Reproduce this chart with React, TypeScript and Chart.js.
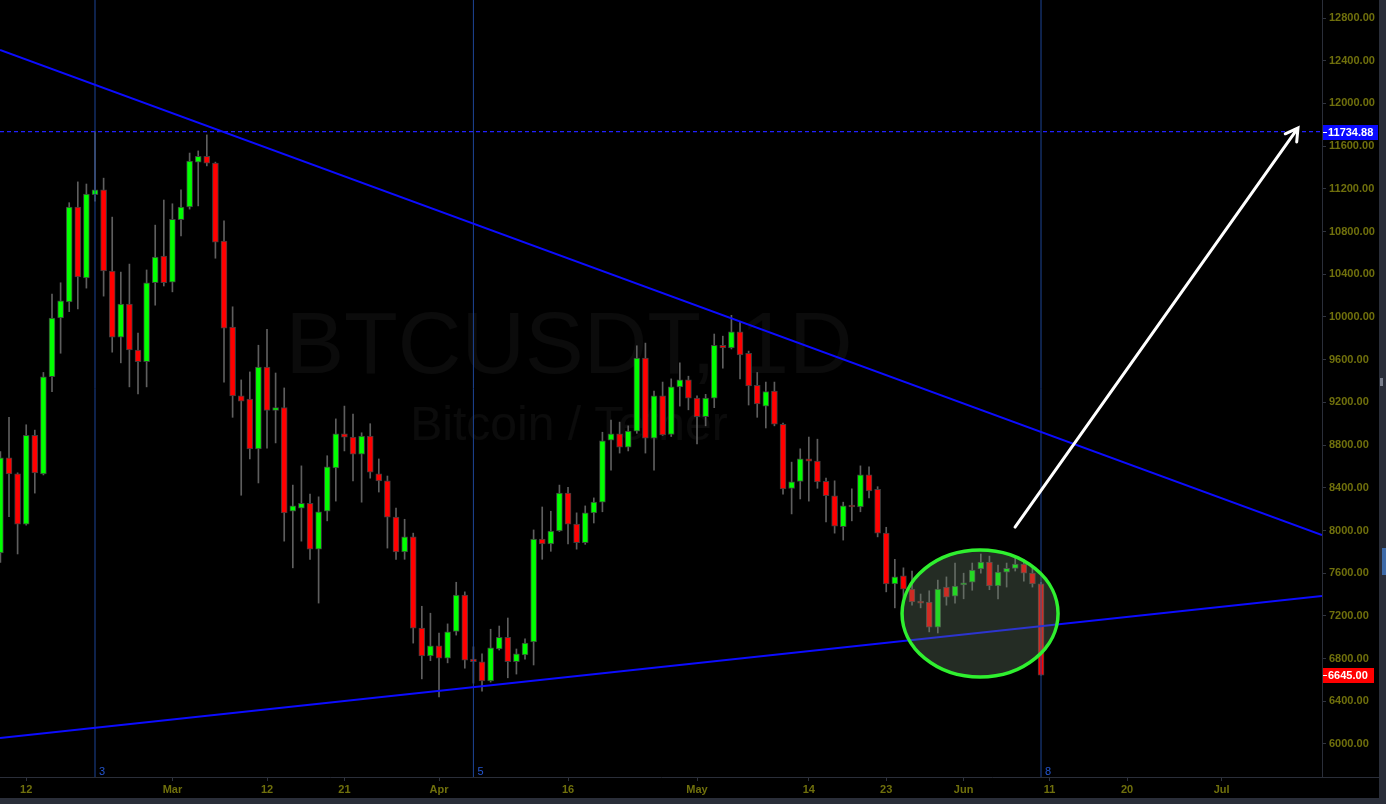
import { useEffect, useRef } from "react";
import { Chart, registerables } from "chart.js";

Chart.register(...registerables);

// Daily candles BTCUSDT, first candle = 2018-02-09 (day index 0)
const startDate = "2018-02-09";
const opens = [7790, 8680, 8530, 8060, 8890, 8530, 9440, 9990, 10140, 11030, 10365, 11145, 11190, 10430, 9810, 10120, 9690, 9580, 10320, 10570,
  10325, 10910, 11030, 11450, 11505, 11440, 10710, 9905, 9260, 9230, 8765, 9530, 9125, 9150, 8180, 8210, 8255, 7825, 8180, 8585,
  8905, 8875, 8715, 8885, 8530, 8465, 8125, 7800, 7940, 7085, 6825, 6920, 6805, 7055, 7395, 6795, 6770, 6590, 6890, 7000,
  6770, 6835, 6955, 7920, 7875, 7995, 8350, 8060, 7885, 8165, 8265, 8845, 8905, 8780, 8930, 9615, 8865, 9260, 8900, 9345,
  9410, 9240, 9065, 9240, 9735, 9710, 9860, 9660, 9360, 9165, 9305, 8995, 8395, 8460, 8670, 8650, 8460, 8325, 8035, 8230,
  8220, 8520, 8385, 7975, 7500, 7575, 7450, 7330, 7330, 7095, 7470, 7385, 7490, 7515, 7640, 7705, 7480, 7610, 7645, 7685,
  7600, 7500];
const highs = [8740, 9060, 8540, 8990, 8940, 9480, 10215, 10320, 11070, 11265, 11245, 11735, 11300, 10935, 10420, 10495, 9850, 10440, 10860, 11095,
  11060, 11190, 11535, 11555, 11705, 11450, 10900, 10095, 9410, 9485, 9735, 9885, 9475, 9335, 8425, 8605, 8340, 8315, 8700, 9045,
  9165, 9090, 8915, 9000, 8670, 8510, 8210, 8105, 7975, 7290, 7225, 7040, 7125, 7515, 7425, 6910, 6845, 7075, 7105, 7180,
  6890, 6985, 8005, 8220, 8180, 8425, 8405, 8165, 8230, 8305, 8920, 9035, 9015, 8980, 9730, 9755, 9305, 9390, 9420, 9570,
  9445, 9260, 9275, 9840, 9820, 10015, 9960, 9680, 9480, 9390, 9390, 9005, 8640, 8765, 8875, 8855, 8490, 8465, 8265, 8390,
  8605, 8595, 8410, 8030, 7730, 7650, 7620, 7405, 7435, 7535, 7565, 7695, 7600, 7695, 7780, 7760, 7675, 7695, 7760, 7725,
  7655, 7515];
const lows = [7700, 8130, 7780, 8050, 8350, 8520, 9300, 9660, 10050, 10075, 10270, 11085, 10195, 9670, 9570, 9345, 9280, 9345, 10110, 10290,
  10235, 10760, 11010, 11040, 11415, 10550, 9390, 9060, 8330, 8670, 8445, 8770, 8820, 7900, 7650, 7900, 7730, 7320, 8090, 8275,
  8745, 8465, 8265, 8490, 8360, 7835, 7730, 7730, 6945, 6610, 6780, 6440, 6760, 7020, 6710, 6570, 6495, 6580, 6880, 6620,
  6655, 6795, 6740, 7730, 7805, 7990, 7875, 7825, 7870, 8070, 8175, 8565, 8725, 8745, 8910, 8725, 8565, 8890, 8880, 9165,
  9130, 8810, 8980, 9150, 9520, 9700, 9420, 9175, 9060, 8960, 8980, 8340, 8155, 8295, 8275, 8395, 8080, 7975, 7910, 8090,
  8175, 8305, 7940, 7425, 7275, 7365, 7300, 7275, 7050, 7040, 7300, 7320, 7360, 7440, 7600, 7445, 7360, 7470, 7620, 7525,
  7470, 6645];
const closes = [8680, 8530, 8060, 8890, 8540, 9440, 9990, 10150, 11030, 10375, 11150, 11190, 10430, 9810, 10120, 9690, 9580, 10320, 10560, 10320,
  10915, 11030, 11460, 11505, 11440, 10700, 9895, 9260, 9210, 8765, 9530, 9125, 9150, 8165, 8230, 8255, 7825, 8175, 8595, 8905,
  8875, 8715, 8885, 8545, 8465, 8125, 7800, 7940, 7085, 6825, 6920, 6805, 7050, 7395, 6785, 6770, 6590, 6900, 7000, 6770,
  6845, 6945, 7920, 7875, 7995, 8350, 8060, 7885, 8165, 8265, 8840, 8905, 8780, 8930, 9615, 8865, 9260, 8895, 9345, 9410,
  9240, 9065, 9240, 9735, 9710, 9860, 9645, 9355, 9185, 9300, 8995, 8390, 8455, 8670, 8650, 8455, 8325, 8040, 8230, 8220,
  8520, 8370, 7975, 7500, 7565, 7450, 7330, 7320, 7095, 7450, 7375, 7480, 7510, 7630, 7705, 7480, 7610, 7645, 7685, 7600,
  7500, 6645];

// Time axis (day index from startDate) and labels
const dateTickDays = [3, 20, 31, 40, 51, 66, 81, 94, 103, 112, 122, 131, 142];
const dateTickLabels = ["12", "Mar", "12", "21", "Apr", "16", "May", "14", "23", "Jun", "11", "20", "Jul"];
const dayRange = [-0.047, 153.67];

// Price axis
const priceTicks = [6000, 6400, 6800, 7200, 7600, 8000, 8400, 8800, 9200, 9600, 10000, 10400, 10800, 11200, 11600, 12000, 12400, 12800];
const priceRange = [5690.9, 12968.6];

// Drawings
const upperTrend = [{ x: -0.047, y: 12500 }, { x: 153.67, y: 7957 }];
const lowerTrend = [{ x: -0.047, y: 6056 }, { x: 153.67, y: 7386 }];
const resistanceLevel = 11734.88;
const lastPrice = 6645.0;
const cycleDays = [11, 55, 121];
const cycleLabels = ["3", "5", "8"];
const ellipseCenter = { x: 113.91, y: 7222 };
const ellipseRadius = { x: 9.07, y: 595 };
const arrowFrom = { x: 117.98, y: 8032 };
const arrowTo = { x: 150.88, y: 11770 };
const watermarkTitle = "BTCUSDT, 1D";
const watermarkSubtitle = "Bitcoin / Tether";

const AXIS_TEXT = "#70700c";
const FONT = "'Liberation Sans', Arial, sans-serif";
const PANEL = "#2a2e39";

export default function App() {
  const canvasRef = useRef<HTMLCanvasElement | null>(null);

  useEffect(() => {
    document.body.style.margin = "0";
    document.body.style.background = "#000";
    const canvas = canvasRef.current;
    if (!canvas) return;

    const bodies = opens.map((o, i) => ({ x: i, y: [o, closes[i]] }));
    const wicks = lows.map((l, i) => ({ x: i, y: [l, highs[i]] }));
    const bodyColors = opens.map((o, i) => (closes[i] >= o ? "#00ff00" : "#ff0000"));

    const vLines = cycleDays.map((d) => ({
      type: "line" as const,
      data: [{ x: d, y: priceRange[0] }, { x: d, y: priceRange[1] }],
      borderColor: "#1d4596",
      borderWidth: 1,
      pointRadius: 0,
      order: 1,
    }));

    const decor = {
      id: "decor",
      beforeDraw(chart: any) {
        const { ctx, width, height } = chart;
        ctx.save();
        ctx.fillStyle = "#000";
        ctx.fillRect(0, 0, width, height);
        ctx.restore();
      },
      beforeDatasetsDraw(chart: any) {
        const { ctx } = chart;
        ctx.save();
        ctx.fillStyle = "rgba(255,255,255,0.045)";
        ctx.textAlign = "center";
        ctx.textBaseline = "alphabetic";
        ctx.font = `88px ${FONT}`;
        ctx.fillText(watermarkTitle, 569, 373);
        ctx.font = `48px ${FONT}`;
        ctx.fillText(watermarkSubtitle, 569, 440);
        ctx.restore();
      },
      afterDatasetsDraw(chart: any) {
        const { ctx, chartArea } = chart;
        const xs = chart.scales.x;
        const ys = chart.scales.y;
        ctx.save();
        ctx.beginPath();
        ctx.rect(chartArea.left, chartArea.top, chartArea.right - chartArea.left, chartArea.bottom - chartArea.top);
        ctx.clip();
        // ellipse
        const cx = xs.getPixelForValue(ellipseCenter.x);
        const cy = ys.getPixelForValue(ellipseCenter.y);
        const rx = Math.abs(xs.getPixelForValue(ellipseCenter.x + ellipseRadius.x) - cx);
        const ry = Math.abs(ys.getPixelForValue(ellipseCenter.y + ellipseRadius.y) - cy);
        ctx.beginPath();
        ctx.ellipse(cx, cy, rx, ry, 0, 0, Math.PI * 2);
        ctx.fillStyle = "rgba(110,135,110,0.33)";
        ctx.fill();
        ctx.lineWidth = 3.5;
        ctx.strokeStyle = "#2ff02f";
        ctx.stroke();
        // arrow
        const x1 = xs.getPixelForValue(arrowFrom.x);
        const y1 = ys.getPixelForValue(arrowFrom.y);
        const x2 = xs.getPixelForValue(arrowTo.x);
        const y2 = ys.getPixelForValue(arrowTo.y);
        ctx.strokeStyle = "#ffffff";
        ctx.lineWidth = 3;
        ctx.lineCap = "round";
        ctx.beginPath();
        ctx.moveTo(x1, y1);
        ctx.lineTo(x2, y2);
        const ang = Math.atan2(y1 - y2, x1 - x2);
        const head = 14;
        const spread = Math.PI / 6;
        ctx.moveTo(x2 + head * Math.cos(ang - spread), y2 + head * Math.sin(ang - spread));
        ctx.lineTo(x2, y2);
        ctx.lineTo(x2 + head * Math.cos(ang + spread), y2 + head * Math.sin(ang + spread));
        ctx.stroke();
        ctx.restore();
      },
      afterDraw(chart: any) {
        const { ctx, chartArea, width, height } = chart;
        const xs = chart.scales.x;
        const ys = chart.scales.y;
        ctx.save();
        // cycle labels
        ctx.fillStyle = "#2456d0";
        ctx.font = `11px ${FONT}`;
        ctx.textAlign = "left";
        ctx.textBaseline = "alphabetic";
        cycleDays.forEach((d, i) => {
          ctx.fillText(cycleLabels[i], xs.getPixelForValue(d) + 4, chartArea.bottom - 2);
        });
        // price labels
        const drawTag = (value: number, bg: string, w: number) => {
          const y = ys.getPixelForValue(value);
          ctx.fillStyle = bg;
          ctx.fillRect(chartArea.right + 1, Math.round(y) - 7, w, 15);
          ctx.fillStyle = "#ffffff";
          ctx.fillRect(chartArea.right + 1, Math.round(y), 4, 1);
          ctx.font = `bold 11px ${FONT}`;
          ctx.textBaseline = "middle";
          ctx.fillText(value.toFixed(2), chartArea.right + 6, Math.round(y) + 1);
        };
        drawTag(resistanceLevel, "#0a0aff", 55);
        drawTag(lastPrice, "#ff0000", 51);
        // panels
        ctx.fillStyle = PANEL;
        ctx.fillRect(width - 7, 0, 7, height);
        ctx.fillRect(0, height - 6, width, 6);
        ctx.fillStyle = "#7a7f8c";
        ctx.fillRect(width - 6, 378, 3, 8);
        ctx.fillStyle = "#3d6aa8";
        ctx.fillRect(width - 4, 548, 4, 27);
        ctx.fillStyle = "#2a2e39";
        ctx.fillRect(chartArea.right, Math.round(chartArea.bottom), width - 7 - chartArea.right, 1);
        ctx.restore();
      },
    };

    const chart = new Chart(canvas, {
      type: "bar",
      data: {
        datasets: [
          {
            type: "line",
            data: upperTrend,
            borderColor: "#0c0cff",
            borderWidth: 2,
            pointRadius: 0,
            order: 0,
          },
          {
            type: "line",
            data: lowerTrend,
            borderColor: "#0c0cff",
            borderWidth: 2,
            pointRadius: 0,
            order: 0,
          },
          {
            type: "line",
            data: [{ x: dayRange[0], y: resistanceLevel }, { x: dayRange[1], y: resistanceLevel }],
            borderColor: "#2020ff",
            borderWidth: 1.3,
            borderDash: [4, 3],
            pointRadius: 0,
            order: 0,
          },
          ...vLines,
          {
            type: "bar",
            data: bodies as any,
            backgroundColor: bodyColors,
            borderColor: "#3d3d3d",
            borderWidth: 1,
            borderSkipped: false,
            barThickness: 6,
            minBarLength: 2,
            grouped: false,
            order: 2,
          },
          {
            type: "bar",
            data: wicks as any,
            backgroundColor: "#5e5e5e",
            borderWidth: 0,
            barThickness: 1,
            grouped: false,
            order: 3,
          },
        ] as any,
      },
      options: {
        animation: false,
        responsive: false,
        events: [],
        layout: { padding: 0 },
        plugins: { legend: { display: false }, tooltip: { enabled: false } },
        scales: {
          x: {
            type: "linear",
            min: dayRange[0],
            max: dayRange[1],
            offset: false,
            afterBuildTicks: (s: any) => {
              s.ticks = dateTickDays.map((v) => ({ value: v }));
            },
            afterFit: (s: any) => {
              s.height = 27;
              s.paddingLeft = 0;
              s.paddingRight = 0;
            },
            ticks: {
              autoSkip: false,
              maxRotation: 0,
              padding: 2,
              color: AXIS_TEXT,
              font: { family: FONT, size: 11, weight: "bold" },
              callback: (v: any) => dateTickLabels[dateTickDays.indexOf(Number(v))] ?? "",
            },
            grid: { drawOnChartArea: false, offset: false, tickLength: 4, color: "#30343e" },
            border: { color: PANEL, width: 1 },
          },
          y: {
            type: "linear",
            position: "right",
            min: priceRange[0],
            max: priceRange[1],
            afterBuildTicks: (s: any) => {
              s.ticks = priceTicks.map((v) => ({ value: v }));
            },
            afterFit: (s: any) => {
              s.width = 64;
              s.paddingTop = 0;
              s.paddingBottom = 0;
            },
            ticks: {
              padding: 3,
              color: AXIS_TEXT,
              font: { family: FONT, size: 11, weight: "bold" },
              callback: (v: any) => Number(v).toFixed(2),
            },
            grid: { drawOnChartArea: false, tickLength: 4, color: "#30343e" },
            border: { color: PANEL, width: 1 },
          },
        },
      } as any,
      plugins: [decor],
    });

    return () => chart.destroy();
  }, []);

  return (
    <div style={{ width: 1386, height: 804, background: "#000" }} data-start={startDate}>
      <canvas ref={canvasRef} width={1386} height={804} style={{ display: "block" }} />
    </div>
  );
}
